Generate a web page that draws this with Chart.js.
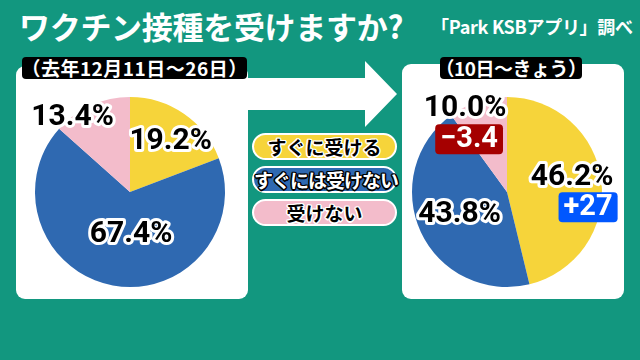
<!DOCTYPE html>
<html lang="ja">
<head>
<meta charset="utf-8">
<script src="https://cdn.jsdelivr.net/npm/chart.js@4"></script>
<style>
  body { margin: 0; width: 640px; height: 360px; background: #12977f; position: relative; overflow: hidden;
         font-family: 'Noto Sans CJK JP', 'Noto Sans', sans-serif; }
  .abs { position: absolute; }
  .panel { position: absolute; background: #fff; border-radius: 9px; }
  .title { left: 19px; top: 5px; color: #fff; font-size: 31px; font-weight: 700; line-height: 42px; letter-spacing: -0.3px; }
  .source { left: 431px; top: 13px; color: #fff; font-size: 18px; font-weight: 700; line-height: 26px; letter-spacing: -0.3px; }
  .period { background: #000; color: #fff; font-weight: 700; font-size: 19px; line-height: 22px; height: 22px;
            border-radius: 4px; white-space: nowrap; display: flex; justify-content: center; overflow: visible; }
  .pill { left: 252px; width: 141px; height: 23px; border: 2px solid #fff; border-radius: 14px;
          text-align: center; font-size: 19px; font-weight: 700; line-height: 23px; white-space: nowrap; }
  .dark { color: #000; text-shadow: -1.5px 0 #fff, 1.5px 0 #fff, 0 -1.5px #fff, 0 1.5px #fff,
          -1px -1px #fff, 1px 1px #fff, -1px 1px #fff, 1px -1px #fff; }
  .light { color: #fff; text-shadow: -1.5px 0 #000, 1.5px 0 #000, 0 -1.5px #000, 0 1.5px #000,
          -1px -1px #000, 1px 1px #000, -1px 1px #000, 1px -1px #000; }
  canvas { position: absolute; }
</style>
</head>
<body>
<div class="abs title">ワクチン接種を受けますか?</div>
<div class="abs source">「Park KSBアプリ」調べ</div>

<div class="panel" style="left:16px;top:66px;width:232px;height:233px"></div>
<div class="panel" style="left:402px;top:64px;width:222px;height:235px"></div>
<svg class="abs" style="left:0;top:0" width="640" height="360">
  <polygon points="240,78 365,78 365,61 397,94 365,127 365,110 240,110" fill="#fff"/>
</svg>

<div class="abs period" style="left:22px;top:57px;width:225px;letter-spacing:0.5px">（去年12月11日～26日）</div>
<div class="abs period" style="left:440px;top:57px;width:142px;letter-spacing:-0.5px">（10日～きょう）</div>

<div class="abs pill dark" id="pill0" style="top:133px">すぐに受ける</div>
<div class="abs pill light" id="pill1" style="top:166px;letter-spacing:-1px">すぐには受けない</div>
<div class="abs pill dark" id="pill2" style="top:199px">受けない</div>

<canvas id="before" width="240" height="240" style="left:10px;top:72px"></canvas>
<canvas id="after" width="240" height="240" style="left:387px;top:72px"></canvas>

<script>
// データ
const categories = ['すぐに受ける', 'すぐには受けない', '受けない'];
const beforeValues = [19.2, 67.4, 13.4];
const afterValues = [46.2, 43.8, 10.0];
const changeLabels = ['+27', null, '−3.4'];

const sliceColors = ['#f6d43a', '#2f69b1', '#f3bccb'];
const changeColors = ['#0057ff', null, '#a50000'];

document.getElementById('pill0').style.background = sliceColors[0];
document.getElementById('pill1').style.background = sliceColors[1];
document.getElementById('pill2').style.background = sliceColors[2];

// ラベル描画プラグイン
const pieLabels = {
  id: 'pieLabels',
  afterDraw(chart, args, opts) {
    const ctx = chart.ctx;
    const arcs = chart.getDatasetMeta(0).data;
    const values = chart.data.datasets[0].data;
    ctx.save();
    ctx.textAlign = 'center';
    ctx.textBaseline = 'middle';
    arcs.forEach((arc, i) => {
      const mid = (arc.startAngle + arc.endAngle) / 2;
      const r = arc.outerRadius * opts.radius[i];
      const x = arc.x + Math.cos(mid) * r + opts.nudge[i][0];
      const y = arc.y + Math.sin(mid) * r + opts.nudge[i][1];
      const text = values[i].toFixed(1) + '%';
      ctx.font = 'bold 30px Roboto, "Noto Sans", sans-serif';
      ctx.lineJoin = 'round';
      ctx.lineWidth = 6;
      ctx.strokeStyle = '#fff';
      ctx.strokeText(text, x, y);
      ctx.fillStyle = '#000';
      ctx.fillText(text, x, y);

      const change = opts.changes ? opts.changes[i] : null;
      if (change) {
        const bx = x + opts.changeShift[i][0];
        const by = y + opts.changeShift[i][1];
        ctx.font = 'bold 29px Roboto, "Noto Sans", sans-serif';
        const w = ctx.measureText(change).width + 10;
        const h = 30;
        ctx.fillStyle = changeColors[i];
        ctx.beginPath();
        ctx.roundRect(bx - w / 2, by - h / 2, w, h, 4);
        ctx.fill();
        ctx.fillStyle = '#fff';
        ctx.fillText(change, bx, by + 1);
      }
    });
    ctx.restore();
  }
};

function makePie(id, values, labelOpts) {
  return new Chart(document.getElementById(id), {
    type: 'pie',
    data: {
      labels: categories,
      datasets: [{ data: values, backgroundColor: sliceColors, borderWidth: 0 }]
    },
    options: {
      responsive: false,
      animation: false,
      layout: { padding: 25 },
      plugins: { legend: { display: false }, tooltip: { enabled: false }, pieLabels: labelOpts }
    },
    plugins: [pieLabels]
  });
}

makePie('before', beforeValues, {
  radius: [0.68, 0.46, 0.99],
  nudge: [[4, 3], [9, 0], [-19, 11]]
});

makePie('after', afterValues, {
  radius: [0.69, 0.55, 0.95],
  nudge: [[0, -7], [0, 1], [-14, 2]],
  changes: changeLabels,
  changeShift: [[16, 30], null, [4, 31]]
});
</script>
</body>
</html>
